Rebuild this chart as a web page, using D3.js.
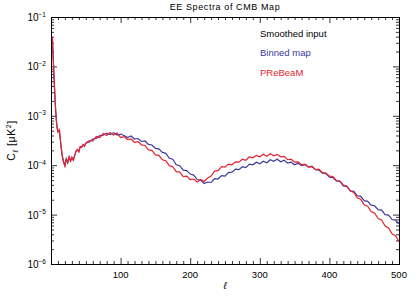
<!DOCTYPE html>
<meta charset="utf-8">
<style>
  body { margin: 0; background: #fff; }
  svg { font-family: "Liberation Sans", "DejaVu Sans", sans-serif; }
  .axis path { stroke: #000; stroke-width: 1px; }
  .axis line { stroke: #000; stroke-width: 0.8px; }
  .series { fill: none; stroke-width: 1.2px; stroke-linejoin: miter; }
</style>
<svg width="415" height="297"></svg>
<script src="https://cdn.jsdelivr.net/npm/d3@7"></script>
<script>
  // multipole values
  var ell = [2, 3, 4, 5, 6, 7, 8, 9, 10, 12, 14, 16, 18, 20, 22, 24, 26, 28, 30, 32, 34, 36, 38, 40, 42, 44, 46, 48, 50,
    55, 60, 65, 70, 75, 80, 85, 90, 95, 100, 105, 110, 115, 120, 125, 130, 135, 140, 145, 150, 155, 160, 165, 170, 175,
    180, 185, 190, 195, 200, 205, 210, 215, 220, 225, 230, 235, 240, 245, 250, 255, 260, 265, 270, 275, 280, 285, 290,
    295, 300, 305, 310, 315, 320, 325, 330, 335, 340, 345, 350, 355, 360, 365, 370, 375, 380, 385, 390, 395, 400, 405,
    410, 415, 420, 425, 430, 435, 440, 445, 450, 455, 460, 465, 470, 475, 480, 485, 490, 495, 500];

  var binnedMap = [3.9e-2, 1.7e-2, 8.1e-3, 3.9e-3, 1.9e-3, 1.1e-3, 7.1e-4, 5.6e-4, 4.7e-4, 5.1e-4, 2.8e-4, 1.6e-4, 1.2e-4, 9.8e-5,
    1.35e-4, 1.12e-4, 1.48e-4, 1.22e-4, 1.42e-4, 1.28e-4, 1.55e-4, 1.93e-4, 2.05e-4, 1.9e-4, 2.35e-4, 2.32e-4, 2.58e-4, 2.45e-4, 2.78e-4,
    2.95e-4, 3.39e-4, 3.47e-4, 3.98e-4, 4.07e-4, 4.47e-4, 4.17e-4, 4.57e-4, 4.07e-4, 4.27e-4, 3.98e-4, 3.63e-4, 3.89e-4, 3.39e-4,
    3.47e-4, 3.02e-4, 3.09e-4, 2.63e-4, 2.57e-4, 2.19e-4, 2.14e-4, 1.82e-4, 1.74e-4, 1.38e-4, 1.32e-4, 1.02e-4, 9.77e-5, 7.94e-5,
    7.76e-5, 6.61e-5, 6.31e-5, 5.13e-5, 5.01e-5, 4.27e-5, 4.57e-5, 4.47e-5, 5.37e-5, 5.25e-5, 6.17e-5, 6.03e-5, 7.08e-5, 7.24e-5,
    8.32e-5, 8.13e-5, 9.33e-5, 8.91e-5, 1.05e-4, 1.02e-4, 1.15e-4, 1.07e-4, 1.2e-4, 1.12e-4, 1.29e-4, 1.2e-4, 1.32e-4, 1.17e-4,
    1.26e-4, 1.1e-4, 1.15e-4, 1.02e-4, 1.1e-4, 9.77e-5, 1.02e-4, 9.12e-5, 9.55e-5, 8.13e-5, 7.94e-5, 6.92e-5, 6.76e-5, 5.75e-5,
    5.62e-5, 4.79e-5, 4.68e-5, 3.8e-5, 3.72e-5, 3.02e-5, 2.95e-5, 2.4e-5, 2.34e-5, 1.91e-5, 1.86e-5, 1.55e-5, 1.51e-5, 1.26e-5,
    1.23e-5, 1.0e-5, 9.77e-6, 7.94e-6, 7.76e-6, 6.46e-6];

  var prebeam = [3.98e-2, 1.66e-2, 7.94e-3, 3.8e-3, 1.91e-3, 1.1e-3, 7.24e-4, 5.5e-4, 4.79e-4, 5.25e-4, 2.75e-4, 1.58e-4, 1.15e-4, 9.55e-5,
    1.38e-4, 1.1e-4, 1.51e-4, 1.2e-4, 1.45e-4, 1.26e-4, 1.58e-4, 1.91e-4, 2.09e-4, 1.86e-4, 2.4e-4, 2.29e-4, 2.63e-4, 2.4e-4, 2.82e-4,
    3.16e-4, 3.09e-4, 3.8e-4, 3.63e-4, 4.37e-4, 3.98e-4, 4.57e-4, 4.07e-4, 4.47e-4, 3.63e-4, 3.8e-4, 3.31e-4, 3.39e-4, 2.88e-4,
    3.02e-4, 2.57e-4, 2.51e-4, 2.04e-4, 2.0e-4, 1.62e-4, 1.58e-4, 1.29e-4, 1.23e-4, 9.77e-5, 9.33e-5, 7.41e-5, 7.24e-5, 5.89e-5,
    6.03e-5, 5.13e-5, 5.25e-5, 4.57e-5, 5.13e-5, 4.68e-5, 5.5e-5, 6.03e-5, 7.59e-5, 7.76e-5, 9.33e-5, 9.12e-5, 1.05e-4, 1.02e-4,
    1.17e-4, 1.15e-4, 1.32e-4, 1.26e-4, 1.48e-4, 1.41e-4, 1.58e-4, 1.48e-4, 1.66e-4, 1.51e-4, 1.7e-4, 1.55e-4, 1.66e-4, 1.48e-4,
    1.51e-4, 1.29e-4, 1.32e-4, 1.15e-4, 1.17e-4, 1.02e-4, 1.05e-4, 9.12e-5, 9.33e-5, 8.13e-5, 8.32e-5, 7.08e-5, 6.92e-5, 6.03e-5,
    5.89e-5, 4.9e-5, 4.79e-5, 3.98e-5, 3.8e-5, 3.02e-5, 2.82e-5, 2.19e-5, 2.04e-5, 1.58e-5, 1.48e-5, 1.15e-5, 1.07e-5, 8.32e-6,
    7.76e-6, 5.89e-6, 5.37e-6, 4.07e-6, 3.72e-6, 2.82e-6];

  var xTicks = [100, 200, 300, 400, 500];
  var yDecades = [1e-6, 1e-5, 1e-4, 1e-3, 1e-2, 1e-1];
  var legendNames = ["Smoothed input", "Binned map", "PReBeaM"];
  var legendColors = ["#000000", "#3a3a9e", "#e8222e"];

  var svg = d3.select("svg");
  var padL = 51, padR = 399, padT = 17, padB = 264;

  var x = d3.scaleLinear().domain([0, 500]).range([padL, padR]);
  var y = d3.scaleLog().domain([1e-6, 1e-1]).range([padB, padT]);

  // minor ticks
  var xMinor = d3.range(10, 500, 10).filter(function(d) { return d % 100 != 0; });
  var yMinor = [];
  yDecades.slice(0, 5).forEach(function(d) {
    for (var k = 2; k < 10; k++) yMinor.push(d * k);
  });

  function addAxis(gen, tr) {
    svg.append("g").attr("class", "axis").attr("transform", tr).call(gen)
      .call(function(g) { g.selectAll("text").remove(); });
  }
  addAxis(d3.axisBottom(x).tickValues(xTicks).tickSize(-6).tickSizeOuter(0), "translate(0," + padB + ")");
  addAxis(d3.axisBottom(x).tickValues(xMinor).tickSize(-3).tickSizeOuter(0), "translate(0," + padB + ")");
  addAxis(d3.axisTop(x).tickValues(xTicks).tickSize(-6).tickSizeOuter(0), "translate(0," + padT + ")");
  addAxis(d3.axisTop(x).tickValues(xMinor).tickSize(-3).tickSizeOuter(0), "translate(0," + padT + ")");
  addAxis(d3.axisLeft(y).tickValues(yDecades).tickSize(-6).tickSizeOuter(0), "translate(" + padL + ",0)");
  addAxis(d3.axisLeft(y).tickValues(yMinor).tickSize(-3).tickSizeOuter(0), "translate(" + padL + ",0)");
  addAxis(d3.axisRight(y).tickValues(yDecades).tickSize(-6).tickSizeOuter(0), "translate(" + padR + ",0)");
  addAxis(d3.axisRight(y).tickValues(yMinor).tickSize(-3).tickSizeOuter(0), "translate(" + padR + ",0)");

  // tick labels
  svg.selectAll(".xlab").data(xTicks).enter().append("text")
    .attr("x", function(d) { return x(d); })
    .attr("y", padB + 14)
    .attr("text-anchor", "middle")
    .attr("font-size", 9.5)
    .text(function(d) { return d; });

  var yl = svg.selectAll(".ylab").data(yDecades).enter().append("text")
    .attr("x", padL - 5)
    .attr("y", function(d) { return y(d) + 4; })
    .attr("text-anchor", "end")
    .attr("font-size", 10);
  yl.append("tspan").text("10");
  yl.append("tspan").attr("font-size", 6.5).attr("dy", -4.5)
    .text(function(d) { return "\u2212" + Math.round(-Math.log10(d)); });

  // curves
  var line = d3.line()
    .x(function(d) { return x(d[0]); })
    .y(function(d) { return y(d[1]); });

  svg.append("path").attr("class", "series")
    .attr("stroke", legendColors[1])
    .attr("d", line(d3.zip(ell, binnedMap)));
  svg.append("path").attr("class", "series")
    .attr("stroke", legendColors[2])
    .attr("d", line(d3.zip(ell, prebeam)));

  // title and axis labels
  svg.append("text").attr("x", (padL + padR) / 2).attr("y", 10)
    .attr("text-anchor", "middle").attr("font-size", 9).attr("letter-spacing", 0.6)
    .text("EE Spectra of CMB Map");

  svg.append("text").attr("x", (padL + padR) / 2).attr("y", 289)
    .attr("text-anchor", "middle").attr("font-size", 10).attr("font-style", "italic")
    .text("\u2113");

  var ylab = svg.append("text")
    .attr("transform", "translate(15," + ((padT + padB) / 2) + ") rotate(-90)")
    .attr("text-anchor", "middle").attr("font-size", 10.5).attr("letter-spacing", 0.6);
  ylab.append("tspan").text("C");
  ylab.append("tspan").attr("font-size", 7.5).attr("dy", 3).attr("font-style", "italic").text("\u2113");
  ylab.append("tspan").attr("dy", -3).text(" [\u03bcK");
  ylab.append("tspan").attr("font-size", 7).attr("dy", -4.5).text("2");
  ylab.append("tspan").attr("dy", 4.5).text("]");

  // legend
  svg.selectAll(".leg").data(legendNames).enter().append("text")
    .attr("x", 260)
    .attr("y", function(d, i) { return 36.5 + i * 19.5; })
    .attr("font-size", 9.5)
    .attr("fill", function(d, i) { return legendColors[i]; })
    .text(function(d) { return d; });
</script>
